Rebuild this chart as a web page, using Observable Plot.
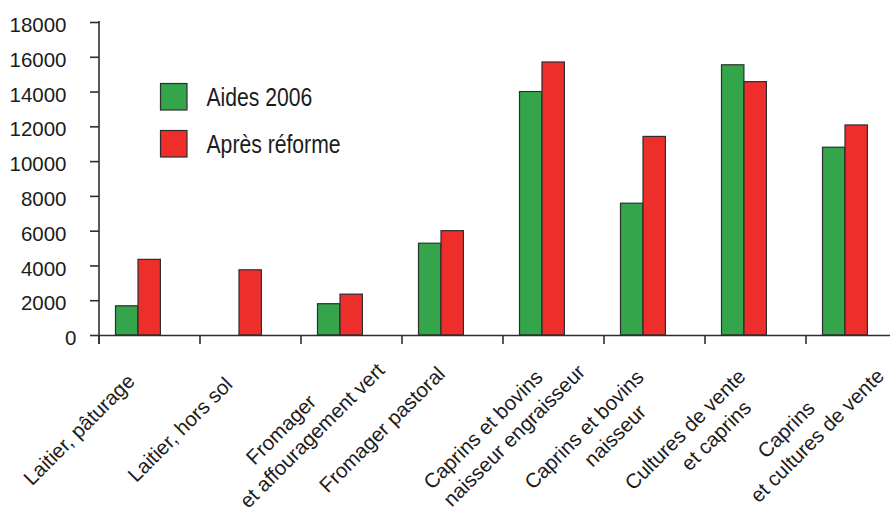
<!DOCTYPE html>
<html><head><meta charset="utf-8">
<script src="https://cdn.jsdelivr.net/npm/d3@7"></script>
<script src="https://cdn.jsdelivr.net/npm/@observablehq/plot@0.6"></script>
<style>
html,body{margin:0;padding:0;background:#fff;}
#chart{width:890px;height:519px;overflow:hidden;position:relative;}
</style></head><body><div id="chart"></div>
<script>
// ---- data ----
const categories = [
  "Laitier, pâturage", "Laitier, hors sol", "Fromager et affouragement vert",
  "Fromager pastoral", "Caprins et bovins naisseur engraisseur",
  "Caprins et bovins naisseur", "Cultures de vente et caprins",
  "Caprins et cultures de vente"
];
const labelLine1 = ["Laitier, pâturage", "Laitier, hors sol", "Fromager", "Fromager pastoral",
  "Caprins et bovins", "Caprins et bovins", "Cultures de vente", "Caprins"];
const labelLine2 = ["", "", "et affouragement vert", "", "naisseur engraisseur",
  "naisseur", "et caprins", "et cultures de vente"];
const series = ["Aides 2006", "Après réforme"];
const aides2006 = [1680, 0, 1800, 5280, 14000, 7580, 15540, 10800];
const apresReforme = [4350, 3750, 2350, 6000, 15700, 11420, 14570, 12080];
const yTicks = [0, 2000, 4000, 6000, 8000, 10000, 12000, 14000, 16000, 18000];
const colors = ["#34a54b", "#ee2e2b"];

const rows = [];
categories.forEach((c, i) => {
  rows.push({cat: c, series: series[0], value: aides2006[i]});
  rows.push({cat: c, series: series[1], value: apresReforme[i]});
});

const ink = "#1c1c1c";
const lineCol = "#2e2e2e";
const band = 101.1;

const chart = Plot.plot({
  width: 890, height: 519,
  marginTop: 22, marginBottom: 184, marginLeft: 99, marginRight: 0,
  style: {fontFamily: "'Liberation Sans', Arial, sans-serif", background: "#fff", color: ink, overflow: "visible"},
  x: {type: "band", domain: categories, range: [99, 99 + categories.length * band], padding: 0, axis: null},
  y: {domain: [0, 18000], label: null},
  marks: [
    Plot.barY(rows.filter(d => d.series === series[0]), {
      x: "cat", y: "value", fill: colors[0], stroke: lineCol, strokeWidth: 1.2,
      insetLeft: 16.5, insetRight: band - 39
    }),
    Plot.barY(rows.filter(d => d.series === series[1]), {
      x: "cat", y: "value", fill: colors[1], stroke: lineCol, strokeWidth: 1.2,
      insetLeft: 39, insetRight: band - 61.5
    }),
    Plot.ruleY([0], {stroke: lineCol, strokeWidth: 1.6}),
    Plot.axisY(yTicks, {anchor: "left", tickSize: 9, fill: "none", stroke: lineCol, strokeWidth: 1.6}),
    Plot.axisY(yTicks.filter(t => t > 0), {anchor: "left", tickSize: 9, tickPadding: 24, stroke: "none",
      fill: ink, fontSize: 20.5, dy: 3, tickFormat: d => String(d)}),
    Plot.axisY([0], {anchor: "left", tickSize: 9, tickPadding: 14, stroke: "none",
      fill: ink, fontSize: 20.5, dy: 3, tickFormat: d => String(d)}),
    Plot.text(categories, {x: d => d, y: () => 0, text: (d, i) => labelLine1[i],
      rotate: -45, textAnchor: "middle", lineAnchor: "bottom", dx: -66, dy: 99, fontSize: 20.5, fill: ink}),
    Plot.text(categories, {x: d => d, y: () => 0, text: (d, i) => labelLine2[i],
      rotate: -45, textAnchor: "middle", lineAnchor: "bottom", dx: -35, dy: 105, fontSize: 20.5, fill: ink})
  ]
});

const svg = d3.select(chart);
const xs = chart.scale("x"), ys = chart.scale("y");
const xLeft = xs.apply(categories[0]);
const yTop = ys.apply(yTicks[yTicks.length - 1]);
const yZero = ys.apply(0);
// vertical axis line
svg.append("line").attr("x1", xLeft).attr("x2", xLeft).attr("y1", yTop - 1).attr("y2", yZero + 9)
  .attr("stroke", lineCol).attr("stroke-width", 1.6);
// category boundary ticks
categories.forEach(c => {
  const x = xs.apply(c);
  svg.append("line").attr("x1", x).attr("x2", x).attr("y1", yZero).attr("y2", yZero + 9)
    .attr("stroke", lineCol).attr("stroke-width", 1.6);
});
// legend
const leg = svg.append("g");
series.forEach((s, i) => {
  const g = leg.append("g").attr("transform", `translate(160.5, ${83.5 + i * 47})`);
  g.append("rect").attr("width", 26.5).attr("height", 26.5).attr("fill", colors[i])
    .attr("stroke", lineCol).attr("stroke-width", 1.2);
  g.append("text").attr("transform", "translate(46,22.8) scale(0.83,1)")
    .attr("text-anchor", "start")
    .attr("font-size", 25.5).attr("fill", ink).text(s);
});

document.getElementById("chart").appendChild(chart);
</script>
</body></html>
